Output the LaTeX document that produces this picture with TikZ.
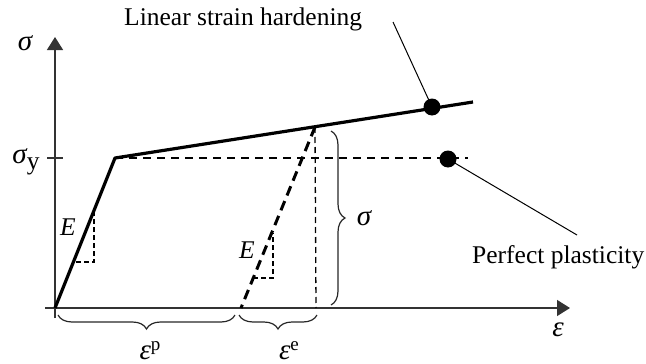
\documentclass[tikz,border=0pt]{standalone}
\usepackage{fontspec}
\setmainfont{Liberation Serif}
\usetikzlibrary{arrows.meta,decorations.pathreplacing}
\newcommand{\gk}[1]{{\fontsize{29}{30}\selectfont\itshape #1}}
\begin{document}
\begin{tikzpicture}[x=1pt,y=-1pt,
  axis/.style={line width=1.4pt,draw=black!80},
  thickline/.style={line width=3.2pt,line join=round},
  thindash/.style={line width=1.5pt,dash pattern=on 8pt off 6pt},
  vdash/.style={line width=1.3pt,dash pattern=on 6pt off 4pt},
  smalldash/.style={line width=1.3pt,dash pattern=on 5pt off 3pt},
  thickdash/.style={line width=3pt,dash pattern=on 10pt off 6pt},
  leader/.style={line width=1pt},
  dot/.style={circle,fill=black,inner sep=0pt,minimum size=17pt},
  lbl/.style={font=\fontsize{25.5}{29}\selectfont,inner sep=0pt},
  bracestyle/.style={line width=1.2pt,draw=black!85,decorate,decoration={brace,amplitude=14pt}}]
\useasboundingbox (0,0) rectangle (646,364);
% key points
\coordinate (O) at (55,308);
\coordinate (Y) at (115,158);
\coordinate (H) at (473,102);
\coordinate (P) at (468,158);
\coordinate (U) at (315,127);
\coordinate (B) at (241,308);
\coordinate (UB) at (316,308);
% axes
\coordinate (ybot) at (55,318);
\coordinate (ytop) at (55,37);
\coordinate (xleft) at (45,308);
\coordinate (xright) at (570,308);
\draw[axis,-{Triangle[length=13pt,width=16pt]}] (ybot) -- (ytop);
\draw[axis,-{Triangle[length=13pt,width=16pt]}] (xleft) -- (xright);
\coordinate (t1) at (47,158);
\coordinate (t2) at (63,158);
\draw[axis] (t1) -- (t2);
\node[lbl] (sig) at (25,43) {\gk{σ}};
\node[lbl] (sigy) at (26,162) {\gk{σ}\raisebox{-6pt}{y}};
\node[lbl] (eps) at (558,330) {\gk{ε}};
% dashed plastic
\draw[thindash] (Y) -- (P);
% curves
\draw[thickline] (O) -- (Y) -- (H);
\draw[thickdash] (U) -- (B);
\draw[vdash] (U) -- (UB);
% E triangles
\coordinate (e1a) at (76,262);
\coordinate (e1b) at (94,262);
\coordinate (e1c) at (94,212);
\draw[smalldash] (e1a) -- (e1b) -- (e1c);
\node[lbl,font=\fontsize{25.5}{29}\selectfont\itshape] (E1) at (68,227) {E};
\coordinate (e2a) at (253,278);
\coordinate (e2b) at (273,278);
\coordinate (e2c) at (273,233);
\draw[smalldash] (e2a) -- (e2b) -- (e2c);
\node[lbl,font=\fontsize{25.5}{29}\selectfont\itshape] (E2) at (247,250) {E};
% braces
\coordinate (bs1) at (331,131);
\coordinate (bs2) at (331,305);
\draw[bracestyle] (bs1) -- (bs2);
\node[lbl] (sigb) at (364,218) {\gk{σ}};
\coordinate (bp1) at (235,315);
\coordinate (bp2) at (58,315);
\draw[bracestyle] (bp1) -- (bp2);
\node[lbl,anchor=base] (epsp) at (150,359) {\gk{ε}\raisebox{9pt}{\fontsize{19}{20}\selectfont p}};
\coordinate (be1) at (317,315);
\coordinate (be2) at (239,315);
\draw[bracestyle] (be1) -- (be2);
\node[lbl,anchor=base] (epse) at (289,359) {\gk{ε}\raisebox{9pt}{\fontsize{19}{20}\selectfont e}};
% dots and leaders
\node[dot] (dh) at (432,107) {};
\node[dot] (dp) at (448,159) {};
\coordinate (lh) at (393,22);
\coordinate (lp) at (577,235);
\draw[leader] (lh) -- (dh.center);
\draw[leader] (dp.center) -- (lp);
\node[lbl,anchor=west] (tlsh) at (124,19) {Linear strain hardening};
\node[lbl,anchor=west] (tpp) at (472,257) {Perfect plasticity};
\end{tikzpicture}
\end{document}
